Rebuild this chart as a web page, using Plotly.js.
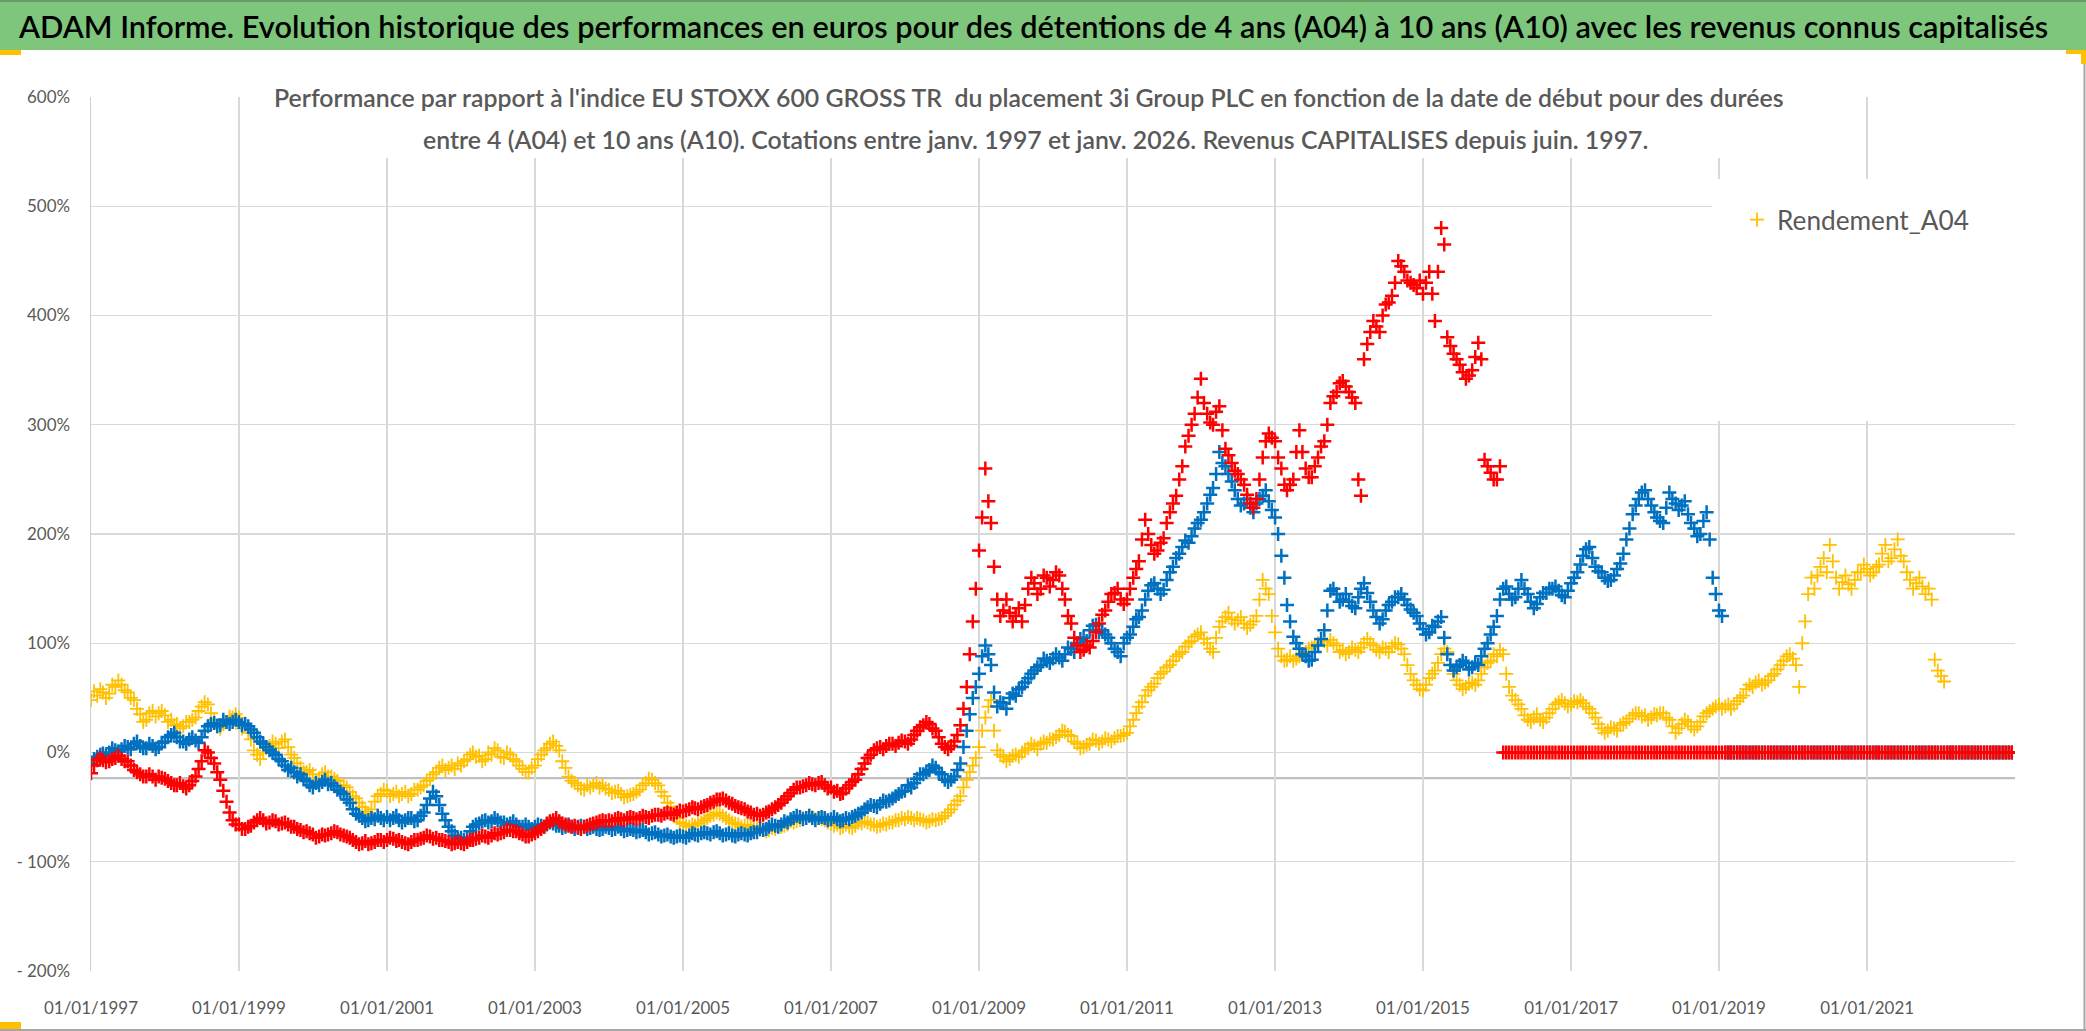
<!DOCTYPE html>
<html>
<head>
<meta charset="utf-8">
<script src="https://cdn.plot.ly/plotly-3.0.1.min.js"></script>
<style>
html,body{margin:0;padding:0;background:#ffffff;}
#chart{width:2086px;height:1031px;}
</style>
</head>
<body>
<div id="chart"></div>
<script>
// ---------------- DATA (readings on the 1st and the 16th of each month, Jan 1997 - Dec 2022) ----------------
const firstYear = 1997;
const seriesNames = ['Rendement_A04', 'Rendement_A07', 'Rendement_A10'];

// A04 (yellow) performance in %, 1st of month
const rendementA04 = [
  48, 52, 55, 54, 60, 62, 55, 48, 35, 30, 38, 36,          // 1997
  34, 30, 26, 24, 28, 32, 42, 44, 30, 22, 28, 32,          // 1998
  32, 25, 12, -2, 0, 6, 8, 10, 5, -5, -14, -18,            // 1999
  -20, -24, -18, -22, -26, -30, -36, -42, -50, -56, -45, -38, // 2000
  -35, -38, -40, -36, -38, -34, -30, -24, -18, -12, -14, -15, // 2001
  -12, -6, 0, -3, -6, -2, 2, -5, -2, -8, -15, -18,         // 2002
  -12, -2, 4, 10, 2, -14, -26, -30, -34, -32, -28, -30,    // 2003
  -34, -36, -38, -40, -38, -34, -28, -25, -30, -40, -50, -60, // 2004
  -65, -68, -67, -64, -60, -57, -56, -60, -64, -66, -67, -68, // 2005
  -68, -70, -71, -70, -68, -66, -64, -62, -60, -59, -60, -62, // 2006
  -65, -66, -68, -68, -67, -65, -64, -66, -67, -66, -64, -62, // 2007
  -61, -60, -60, -62, -63, -62, -60, -55, -48, -40, -25, -12, // 2008
  5, 32, 48, 2, -4, -6, -2, 0, 4, 6, 8, 9,                 // 2009
  12, 16, 19, 15, 8, 5, 8, 11, 10, 12, 13, 15,             // 2010
  18, 30, 42, 52, 60, 68, 74, 80, 88, 92, 100, 106,        // 2011
  110, 100, 92, 115, 124, 122, 121, 118, 117, 125, 158, 145, // 2012
  110, 88, 85, 84, 88, 92, 96, 100, 102, 103, 98, 94,      // 2013
  92, 94, 96, 104, 98, 92, 95, 97, 99, 90, 72, 62,         // 2014
  57, 68, 75, 90, 92, 72, 62, 60, 64, 66, 78, 84,          // 2015
  88, 90, 60, 48, 40, 30, 32, 30, 32, 40, 46, 45,          // 2016
  44, 46, 45, 40, 32, 22, 20, 22, 25, 28, 34, 36,          // 2017
  34, 32, 34, 36, 30, 18, 26, 28, 21, 28, 36, 40,          // 2018
  44, 42, 40, 47, 52, 62, 64, 62, 66, 72, 80, 88,          // 2019
  86, 60, 120, 160, 162, 178, 190, 160, 156, 154, 158, 165, // 2020
  168, 165, 172, 190, 178, 195, 175, 158, 155, 152, 150, 85, // 2021
  70, 0, 0, 0, 0, 0, 0, 0, 0, 0, 0, 0                      // 2022
];
// A04, 16th of month
const rendementA04Mid = [
  56, 58, 50, 62, 66, 57, 50, 40, 28, 36, 33, 38,          // 1997
  28, 25, 22, 28, 30, 38, 46, 36, 24, 26, 33, 35,          // 1998
  22, 18, 2, -6, 4, 10, 4, 12, -2, -10, -18, -16,          // 1999
  -26, -20, -22, -24, -30, -32, -40, -46, -54, -52, -40, -34, // 2000
  -40, -36, -38, -40, -34, -32, -26, -20, -14, -16, -12, -10, // 2001
  -8, -2, -4, -8, 0, 4, -4, 0, -6, -12, -18, -14,          // 2002
  -6, 2, 8, 6, -8, -22, -28, -33, -30, -30, -32, -33,      // 2003
  -37, -35, -41, -39, -36, -30, -24, -28, -36, -46, -55, -64, // 2004
  -67, -66, -65, -62, -58, -55, -58, -62, -65, -68, -66, -70, // 2005
  -71, -72, -69, -68, -67, -63, -63, -60, -58, -61, -61, -64, // 2006
  -67, -69, -66, -69, -64, -63, -66, -68, -65, -64, -62, -60, // 2007
  -59, -62, -61, -64, -61, -61, -58, -52, -44, -32, -18, -5,  // 2008
  20, 42, 20, -2, -8, -3, -4, 2, 8, 3, 10, 12,             // 2009
  14, 20, 16, 10, 4, 7, 12, 8, 13, 10, 15, 16,             // 2010
  24, 36, 46, 57, 63, 72, 78, 84, 90, 97, 102, 108,        // 2011
  104, 95, 105, 120, 128, 118, 124, 114, 120, 140, 150, 125, // 2012
  95, 84, 88, 86, 90, 95, 98, 104, 98, 100, 92, 90,        // 2013
  96, 92, 100, 100, 94, 96, 92, 100, 95, 80, 66, 58,       // 2014
  62, 72, 82, 95, 80, 66, 58, 63, 62, 72, 82, 90,          // 2015
  94, 72, 52, 44, 34, 28, 35, 28, 36, 44, 48, 42,          // 2016
  47, 48, 42, 36, 26, 18, 23, 20, 27, 31, 36, 33,          // 2017
  30, 35, 36, 32, 24, 22, 30, 24, 24, 33, 38, 42,          // 2018
  40, 44, 44, 50, 58, 60, 66, 64, 70, 76, 84, 90,          // 2019
  80, 100, 145, 150, 170, 165, 175, 150, 162, 150, 165, 172, // 2020
  162, 170, 182, 175, 186, 180, 165, 150, 160, 145, 140, 75, // 2021
  65, 0, 0, 0, 0, 0, 0, 0, 0, 0, 0, 0                      // 2022
];

// A07 (blue) performance in %, 1st of month
const rendementA07 = [
  -10, -4, -1, 0, 2, 3, 5, 8, 6, 4, 6, 5,                  // 1997
  10, 16, 14, 10, 12, 11, 14, 24, 27, 25, 28, 28,          // 1998
  28, 26, 21, 14, 8, 2, -2, -8, -16, -18, -20, -26,        // 1999
  -32, -30, -25, -28, -34, -38, -46, -56, -60, -62, -61, -60, // 2000
  -59, -60, -62, -62, -60, -62, -55, -42, -40, -56, -68, -76, // 2001
  -78, -78, -68, -65, -62, -63, -62, -64, -65, -66, -68, -68, // 2002
  -68, -67, -66, -65, -67, -68, -68, -69, -68, -69, -70, -70, // 2003
  -69, -70, -70, -71, -71, -72, -73, -74, -75, -76, -77, -77, // 2004
  -77, -76, -75, -74, -74, -73, -74, -75, -76, -75, -75, -74, // 2005
  -73, -71, -68, -67, -66, -64, -60, -59, -60, -60, -60, -60, // 2006
  -61, -61, -62, -61, -58, -55, -50, -49, -47, -45, -42, -38, // 2007
  -35, -32, -24, -20, -16, -14, -20, -27, -22, -10, 20, 50,  // 2008
  72, 98, 80, 42, 45, 50, 52, 60, 68, 75, 80, 84,          // 2009
  86, 87, 90, 95, 100, 105, 112, 117, 112, 105, 95, 88,    // 2010
  105, 115, 124, 140, 153, 150, 149, 165, 178, 188, 192, 205, // 2011
  213, 228, 242, 275, 262, 248, 232, 228, 224, 228, 235, 230, // 2012
  215, 180, 135, 106, 95, 88, 85, 98, 112, 148, 145, 140,  // 2013
  138, 132, 150, 146, 130, 118, 130, 138, 142, 140, 131, 125, // 2014
  113, 110, 115, 124, 90, 75, 80, 82, 78, 80, 95, 108,     // 2015
  125, 150, 145, 142, 158, 145, 132, 142, 146, 150, 148, 142, // 2016
  155, 165, 180, 188, 170, 165, 157, 162, 173, 195, 218, 232, // 2017
  240, 226, 215, 210, 238, 228, 226, 218, 205, 200, 220, 160, // 2018
  130, 0, 0, 0, 0, 0, 0, 0, 0, 0, 0, 0,                    // 2019
  0, 0, 0, 0, 0, 0, 0, 0, 0, 0, 0, 0,                      // 2020
  0, 0, 0, 0, 0, 0, 0, 0, 0, 0, 0, 0,                      // 2021
  0, 0, 0, 0, 0, 0, 0, 0, 0, 0, 0, 0                       // 2022
];
// A07, 16th of month
const rendementA07Mid = [
  -6, -2, -3, 4, 1, 6, 3, 10, 4, 8, 3, 9,                  // 1997
  14, 18, 10, 8, 14, 9, 20, 26, 24, 30, 26, 30,            // 1998
  25, 24, 18, 10, 5, 0, -6, -12, -14, -22, -24, -30,       // 1999
  -28, -27, -29, -31, -36, -43, -52, -58, -63, -60, -58, -62, // 2000
  -62, -58, -64, -60, -63, -58, -48, -36, -48, -62, -72, -79, // 2001
  -80, -72, -66, -63, -64, -60, -64, -66, -63, -68, -66, -70, // 2002
  -66, -68, -64, -67, -69, -66, -70, -67, -70, -68, -71, -68, // 2003
  -71, -68, -72, -70, -73, -71, -75, -73, -77, -75, -78, -76, // 2004
  -78, -74, -76, -73, -75, -72, -76, -74, -77, -74, -76, -73, // 2005
  -70, -70, -66, -68, -63, -61, -58, -61, -58, -62, -59, -62, // 2006
  -59, -63, -60, -59, -56, -52, -48, -50, -44, -44, -40, -36, // 2007
  -30, -28, -20, -18, -12, -18, -25, -25, -16, 5, 35, 60,  // 2008
  88, 90, 55, 46, 40, 54, 58, 64, 72, 78, 86, 82,          // 2009
  90, 84, 96, 92, 104, 102, 116, 110, 108, 100, 92, 100,   // 2010
  108, 122, 130, 148, 155, 145, 158, 170, 182, 194, 198, 210, // 2011
  220, 236, 255, 265, 255, 240, 226, 232, 220, 232, 240, 222, // 2012
  200, 160, 120, 100, 90, 84, 92, 104, 130, 150, 138, 145, // 2013
  134, 142, 155, 138, 124, 122, 135, 142, 145, 135, 128, 118, // 2014
  108, 116, 120, 105, 80, 78, 84, 76, 82, 88, 100, 115,    // 2015
  140, 152, 140, 150, 150, 138, 136, 146, 150, 152, 144, 148, // 2016
  160, 172, 186, 178, 166, 160, 158, 168, 182, 205, 226, 238, // 2017
  232, 220, 212, 224, 232, 222, 230, 210, 198, 212, 195, 145, // 2018
  125, 0, 0, 0, 0, 0, 0, 0, 0, 0, 0, 0,                    // 2019
  0, 0, 0, 0, 0, 0, 0, 0, 0, 0, 0, 0,                      // 2020
  0, 0, 0, 0, 0, 0, 0, 0, 0, 0, 0, 0,                      // 2021
  0, 0, 0, 0, 0, 0, 0, 0, 0, 0, 0, 0                       // 2022
];

// A10 (red) performance in %, 1st of month
const rendementA10 = [
  -19, -7, -7, -8, -5, -6, -8, -16, -20, -22, -22, -22,    // 1997
  -24, -28, -30, -31, -30, -22, -8, 0, -10, -25, -45, -62, // 1998
  -66, -70, -67, -62, -62, -64, -63, -65, -66, -68, -71, -72, // 1999
  -75, -77, -76, -74, -73, -76, -78, -82, -83, -84, -82, -80, // 2000
  -80, -79, -80, -83, -82, -80, -78, -77, -78, -80, -82, -83, // 2001
  -83, -82, -80, -78, -77, -76, -75, -73, -71, -72, -75, -77, // 2002
  -74, -70, -65, -62, -63, -66, -68, -68, -68, -66, -64, -62, // 2003
  -62, -61, -61, -60, -60, -60, -59, -58, -57, -56, -56, -55, // 2004
  -54, -52, -51, -50, -48, -45, -43, -44, -47, -50, -52, -55, // 2005
  -56, -57, -54, -50, -46, -40, -34, -32, -30, -29, -28, -30, // 2006
  -32, -35, -37, -30, -25, -15, -5, 2, 5, 6, 8, 9,         // 2007
  10, 12, 20, 25, 26, 20, 8, 3, 10, 25, 60, 120,           // 2008
  185, 260, 210, 140, 130, 128, 125, 120, 150, 155, 150, 160, // 2009
  158, 162, 140, 118, 98, 94, 96, 110, 126, 138, 146, 140, // 2010
  140, 160, 175, 213, 190, 185, 196, 220, 235, 262, 290, 310, // 2011
  342, 310, 300, 317, 278, 265, 255, 245, 228, 232, 270, 292, // 2012
  285, 260, 240, 250, 295, 260, 252, 270, 285, 320, 330, 340, // 2013
  330, 320, 235, 374, 395, 385, 410, 418, 450, 440, 430, 425, // 2014
  420, 440, 395, 480, 380, 365, 355, 342, 350, 375, 268, 256, // 2015
  250, 0, 0, 0, 0, 0, 0, 0, 0, 0, 0, 0,                    // 2016
  0, 0, 0, 0, 0, 0, 0, 0, 0, 0, 0, 0,                      // 2017
  0, 0, 0, 0, 0, 0, 0, 0, 0, 0, 0, 0,                      // 2018
  0, 0, 0, 0, 0, 0, 0, 0, 0, 0, 0, 0,                      // 2019
  0, 0, 0, 0, 0, 0, 0, 0, 0, 0, 0, 0,                      // 2020
  0, 0, 0, 0, 0, 0, 0, 0, 0, 0, 0, 0,                      // 2021
  0, 0, 0, 0, 0, 0, 0, 0, 0, 0, 0, 0                       // 2022
];
// A10, 16th of month
const rendementA10Mid = [
  -12, -5, -9, -6, -3, -8, -12, -18, -22, -20, -25, -23,   // 1997
  -26, -30, -28, -33, -26, -15, 2, -5, -18, -35, -55, -66, // 1998
  -70, -68, -64, -60, -65, -62, -66, -64, -68, -70, -73, -74, // 1999
  -78, -75, -75, -72, -75, -77, -80, -84, -81, -83, -80, -82, // 2000
  -78, -81, -82, -84, -80, -79, -76, -79, -80, -81, -84, -82, // 2001
  -84, -80, -79, -76, -78, -74, -74, -71, -72, -74, -77, -75, // 2002
  -72, -68, -63, -60, -65, -67, -67, -70, -67, -65, -63, -63, // 2003
  -63, -60, -62, -59, -61, -58, -60, -57, -58, -55, -57, -53, // 2004
  -53, -50, -52, -49, -46, -43, -42, -46, -49, -51, -54, -57, // 2005
  -58, -55, -52, -48, -43, -37, -32, -31, -28, -30, -27, -33, // 2006
  -36, -38, -33, -27, -20, -10, -2, 4, 3, 8, 6, 11,        // 2007
  8, 16, 23, 28, 22, 14, 5, 6, 16, 40, 90, 150,            // 2008
  215, 230, 170, 125, 140, 120, 132, 135, 160, 145, 162, 152, // 2009
  165, 150, 125, 105, 92, 98, 102, 118, 130, 145, 150, 136, // 2010
  150, 168, 195, 200, 182, 192, 210, 228, 250, 280, 300, 325, // 2011
  320, 302, 312, 295, 272, 258, 250, 236, 224, 250, 285, 288, // 2012
  270, 245, 245, 275, 275, 252, 262, 280, 300, 326, 338, 335, // 2013
  325, 250, 360, 385, 390, 400, 412, 430, 445, 432, 428, 432, // 2014
  430, 420, 440, 465, 372, 360, 348, 345, 362, 360, 262, 250, // 2015
  262, 0, 0, 0, 0, 0, 0, 0, 0, 0, 0, 0,                    // 2016
  0, 0, 0, 0, 0, 0, 0, 0, 0, 0, 0, 0,                      // 2017
  0, 0, 0, 0, 0, 0, 0, 0, 0, 0, 0, 0,                      // 2018
  0, 0, 0, 0, 0, 0, 0, 0, 0, 0, 0, 0,                      // 2019
  0, 0, 0, 0, 0, 0, 0, 0, 0, 0, 0, 0,                      // 2020
  0, 0, 0, 0, 0, 0, 0, 0, 0, 0, 0, 0,                      // 2021
  0, 0, 0, 0, 0, 0, 0, 0, 0, 0, 0, 0                       // 2022
];

const yTickVals = [-200, -100, 0, 100, 200, 300, 400, 500, 600];
const yTickText = ['- 200%', '- 100%', '0%', '100%', '200%', '300%', '400%', '500%', '600%'];
const xTickVals = ['1997-01-01', '1999-01-01', '2001-01-01', '2003-01-01', '2005-01-01', '2007-01-01',
                   '2009-01-01', '2011-01-01', '2013-01-01', '2015-01-01', '2017-01-01', '2019-01-01', '2021-01-01'];
const xTickText = ['01/01/1997', '01/01/1999', '01/01/2001', '01/01/2003', '01/01/2005', '01/01/2007',
                   '01/01/2009', '01/01/2011', '01/01/2013', '01/01/2015', '01/01/2017', '01/01/2019', '01/01/2021'];
const xRange = ['1997-01-01', '2023-01-01'];
const yRange = [-200, 600];
const axisCrossValue = -23.4;

const titleText = 'ADAM Informe. Evolution historique des performances en euros pour des détentions de 4 ans (A04) à 10 ans (A10) avec les revenus connus capitalisés';
const subLine1 = "Performance par rapport à l'indice EU STOXX 600 GROSS TR \u00a0du placement 3i Group PLC en fonction de la date de début pour des durées";
const subLine2 = 'entre 4 (A04) et 10 ans (A10). Cotations entre janv. 1997 et janv. 2026. Revenus CAPITALISES depuis juin. 1997.';

// ---------------- helpers ----------------
function monthDates(n, day) {
  const out = [];
  for (let i = 0; i < n; i++) {
    const y = firstYear + Math.floor(i / 12);
    const m = (i % 12) + 1;
    out.push(y + '-' + String(m).padStart(2, '0') + '-' + day);
  }
  return out;
}
const FONT = 'Lato, "Open Sans", sans-serif';
const ctx = document.createElement('canvas').getContext('2d');
function fitSize(text, weight, target) {
  ctx.font = weight + ' 100px ' + FONT;
  return 100 * target / ctx.measureText(text).width;
}

const W = 2086, H = 1031, PL = 91, PR = 2015, PT = 97, PB = 971;
const px2x = px => (px - PL) / (PR - PL);
const px2y = py => (PB - py) / (PB - PT);

const titleSize = fitSize(titleText, 600, 2030);
const subSize = fitSize(subLine1, 600, 1512);
const legendSize = fitSize('Rendement_A04', 400, 192);
const tickSize = fitSize('01/01/1997', 400, 94);

const colors = ['#FFC000', '#0070C0', '#FF0000'];
const lineW = [1.8, 2.5, 2.5];
const firstOfMonth = [rendementA04, rendementA07, rendementA10];
const midOfMonth = [rendementA04Mid, rendementA07Mid, rendementA10Mid];

const traces = firstOfMonth.map((v, i) => ({
  type: 'scatter',
  mode: 'markers',
  name: seriesNames[i],
  x: monthDates(v.length, '01').concat(monthDates(midOfMonth[i].length, '16')),
  y: v.concat(midOfMonth[i]),
  showlegend: i === 0,
  marker: {symbol: 'cross-thin-open', size: 10, color: colors[i], line: {color: colors[i], width: lineW[i]}},
  hoverinfo: 'skip'
}));

const shapes = [
  // green title bar
  {type: 'rect', xref: 'paper', yref: 'paper', x0: px2x(0), x1: px2x(W), y0: px2y(50), y1: px2y(0),
   fillcolor: '#7DC67B', line: {width: 0}, layer: 'below'},
  {type: 'line', xref: 'paper', yref: 'paper', x0: px2x(0), x1: px2x(W), y0: px2y(1), y1: px2y(1),
   line: {color: '#6A9A68', width: 2}, layer: 'above'},
  // white box behind subtitle
  {type: 'rect', xref: 'paper', yref: 'paper', x0: px2x(266), x1: px2x(1793), y0: px2y(158), y1: px2y(75),
   fillcolor: '#FFFFFF', line: {width: 0}, layer: 'above'},
  // white box behind legend
  {type: 'rect', xref: 'paper', yref: 'paper', x0: px2x(1712), x1: px2x(2017), y0: px2y(421), y1: px2y(179),
   fillcolor: '#FFFFFF', line: {width: 0}, layer: 'above'},
  // horizontal axis line
  {type: 'line', xref: 'paper', yref: 'y', x0: 0, x1: 1, y0: axisCrossValue, y1: axisCrossValue,
   line: {color: '#BFBFBF', width: 2.2}, layer: 'between'},
  // sheet border lines
  {type: 'line', xref: 'paper', yref: 'paper', x0: px2x(2084.5), x1: px2x(2084.5), y0: px2y(1031), y1: px2y(50),
   line: {color: '#A6A6A6', width: 2}, layer: 'above'},
  {type: 'line', xref: 'paper', yref: 'paper', x0: px2x(0), x1: px2x(W), y0: px2y(1030), y1: px2y(1030),
   line: {color: '#A6A6A6', width: 2}, layer: 'above'},
  // orange selection handles
  {type: 'rect', xref: 'paper', yref: 'paper', x0: px2x(0), x1: px2x(21), y0: px2y(55), y1: px2y(50),
   fillcolor: '#FFC000', line: {width: 0}, layer: 'above'},
  {type: 'rect', xref: 'paper', yref: 'paper', x0: px2x(2066), x1: px2x(W), y0: px2y(54), y1: px2y(50),
   fillcolor: '#FFC000', line: {width: 0}, layer: 'above'},
  {type: 'rect', xref: 'paper', yref: 'paper', x0: px2x(2081), x1: px2x(W), y0: px2y(64), y1: px2y(50),
   fillcolor: '#FFC000', line: {width: 0}, layer: 'above'},
  {type: 'rect', xref: 'paper', yref: 'paper', x0: px2x(0), x1: px2x(21), y0: px2y(1029), y1: px2y(1022),
   fillcolor: '#FFC000', line: {width: 0}, layer: 'above'}
];

const annotations = [
  {text: titleText, xref: 'paper', yref: 'paper', x: px2x(16), y: px2y(26), xanchor: 'left', yanchor: 'middle',
   showarrow: false, font: {family: FONT, size: titleSize, color: '#000000', weight: 600}},
  {text: subLine1, xref: 'paper', yref: 'paper', x: px2x(1029), y: px2y(97), xanchor: 'center', yanchor: 'middle',
   showarrow: false, font: {family: FONT, size: subSize, color: '#595959', weight: 600}},
  {text: subLine2, xref: 'paper', yref: 'paper', x: px2x(1035), y: px2y(139), xanchor: 'center', yanchor: 'middle',
   showarrow: false, font: {family: FONT, size: subSize, color: '#595959', weight: 600}}
];

const layout = {
  width: W, height: H,
  margin: {l: PL, r: W - PR, t: PT, b: H - PB, pad: 0},
  paper_bgcolor: '#FFFFFF', plot_bgcolor: '#FFFFFF',
  showlegend: true,
  legend: {x: px2x(1737), xanchor: 'left', y: px2y(220), yanchor: 'middle', bgcolor: 'rgba(0,0,0,0)',
           borderwidth: 0, itemwidth: 30, font: {family: FONT, size: legendSize, color: '#595959'}},
  xaxis: {type: 'date', range: xRange, tickmode: 'array', tickvals: xTickVals, ticktext: xTickText,
          showgrid: true, gridcolor: '#D9D9D9', gridwidth: 1.4, zeroline: false, showline: false,
          ticks: '', ticklabelstandoff: 25, automargin: false,
          tickfont: {family: FONT, size: tickSize, color: '#595959'}},
  yaxis: {range: yRange, tickmode: 'array', tickvals: yTickVals, ticktext: yTickText,
          showgrid: true, gridcolor: '#D9D9D9', gridwidth: 1.4, zeroline: false,
          showline: true, linecolor: '#D0D0D0', linewidth: 1.5,
          ticks: '', ticklabelstandoff: 16, automargin: false,
          tickfont: {family: FONT, size: tickSize, color: '#595959'}},
  shapes: shapes,
  annotations: annotations
};

Plotly.newPlot('chart', traces, layout, {displayModeBar: false, staticPlot: true});
</script>
</body>
</html>
